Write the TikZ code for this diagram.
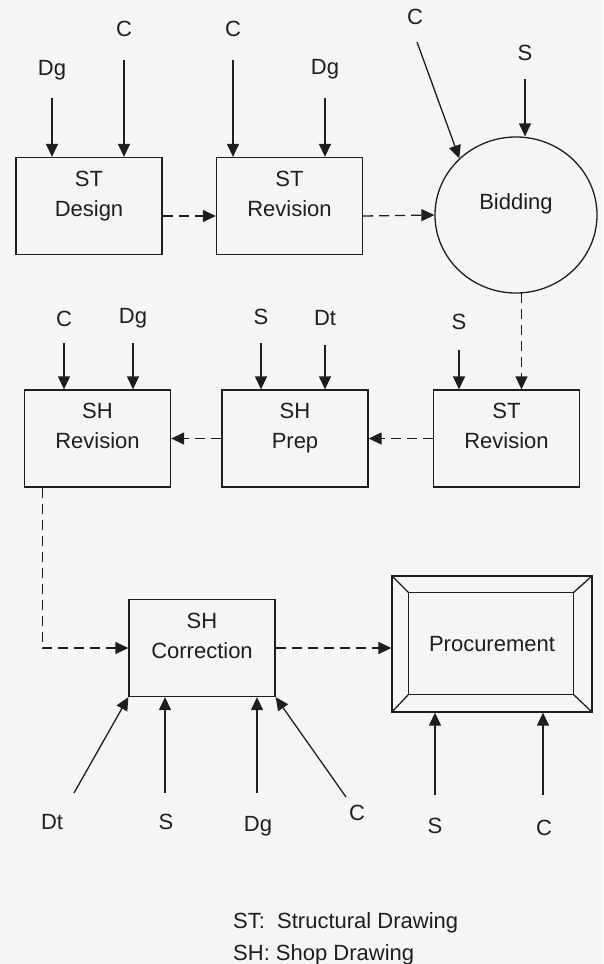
\documentclass[tikz,border=0pt]{standalone}
\usepackage{fontspec}
\setmainfont{Liberation Sans}
\usepackage{tikz}
\usetikzlibrary{arrows.meta,calc,positioning,shapes.geometric}
\definecolor{paper}{RGB}{245,245,243}
\definecolor{ink}{RGB}{30,30,30}
\tikzset{
    stage box/.style={
        draw=ink,line width=1.3pt,
        minimum width=146pt,minimum height=97pt,
        align=center,text height=46pt,text depth=26pt,
        font=\fontsize{22}{30}\selectfont
    },
    tag/.style={inner sep=0pt,font=\fontsize{22}{30}\selectfont},
    feed/.style={ink,line width=1.3pt,->},
    flow/.style={ink,line width=1.3pt,->,dash pattern=on 10pt off 6pt},
    >={Triangle[length=13pt,width=12pt]}
}
\begin{document}
\begin{tikzpicture}[x=1pt,y=-1pt,text=ink]
\path[use as bounding box,fill=paper] (0,0) rectangle (603,964);
\node[stage box] (design) at (89,206) {ST\\Design};
\node[stage box] (strev1) at (289.5,206) {ST\\Revision};
\node[ellipse,draw=ink,line width=1.3pt,minimum width=162pt,minimum height=156pt,
      text height=16pt,text depth=28pt,font=\fontsize{22}{30}\selectfont] (bid) at (516,215) {Bidding};
\node[stage box] (shrev) at (97.5,438.5) {SH\\Revision};
\node[stage box] (shprep) at (295,438.5) {SH\\Prep};
\node[stage box] (strev2) at (506.5,438.5) {ST\\Revision};
\node[stage box] (shcor) at (202,648) {SH\\Correction};
\node[stage box,minimum width=200pt,minimum height=136pt,text height=,text depth=] (proc) at (492,644) {Procurement};
\draw[ink,line width=1.3pt] ([shift={(17,17)}]proc.north west) rectangle ([shift={(-19,-18)}]proc.south east);
\foreach \c/\dx/\dy in {north west/17/17,north east/-19/17,south east/-19/-18,south west/17/-18}
    \draw[ink,line width=1.3pt] (proc.\c) -- ++(\dx,\dy);
\foreach \nm/\txt/\x/\ly/\sy/\tgt in {dgA/Dg/52/70/98/design,cA/C/124/29/60/design,
        cB/C/233/29/60/strev1,dgB/Dg/325/69/98/strev1,sA/S/525/53/79/bid,
        cD/C/64/319/343/shrev,dgC/Dg/133/318/343/shrev,sB/S/261/317/343/shprep,
        dtA/Dt/325/318/345/shprep,sC/S/459/322/350/strev2}{
    \node[tag] (\nm) at (\x,\ly) {\txt};
    \coordinate (\nm-s) at (\x,\sy);
    \draw[feed] (\nm-s) -- (\nm-s |- \tgt.north);
}
\node[tag] (cC) at (415,17) {C};
\coordinate (cC-s) at (417,42);
\draw[feed] (cC-s) -- (bid.135);
\foreach \nm/\txt/\x/\ly/\sx/\sy/\tgt in {sD/S/166/822/165/793/shcor,dgD/Dg/258/826/257/793/shcor,
        sE/S/435/826/435/795/proc,cF/C/544/828/543/795/proc}{
    \node[tag] (\nm) at (\x,\ly) {\txt};
    \coordinate (\nm-s) at (\sx,\sy);
    \draw[feed] (\nm-s) -- (\nm-s |- \tgt.south);
}
\node[tag] (dtB) at (52,822) {Dt};
\coordinate (dtB-s) at (74,793);
\draw[feed] (dtB-s) -- (shcor.south west);
\node[tag] (cE) at (357,813) {C};
\coordinate (cE-s) at (346,797);
\draw[feed] (cE-s) -- (shcor.south east);
\draw[flow] ([yshift=-10pt]design.east) -- ([yshift=-10pt]strev1.west);
\draw[flow] ([yshift=-10pt]strev1.east) -- (bid.west);
\draw[flow] (bid.-86) -- (bid.-86 |- strev2.north);
\draw[flow] (strev2) -- (shprep);
\draw[flow] (shprep) -- (shrev);
\draw[flow] ([xshift=18.5pt]shrev.south west) |- (shcor);
\draw[flow] (shcor.east) -- (shcor.east -| proc.west);
\node[tag,align=left,anchor=north west,font=\fontsize{22}{32}\selectfont] (legend) at (233,912)
    {ST:\ \ Structural Drawing\\SH: Shop Drawing};
\end{tikzpicture}
\end{document}
